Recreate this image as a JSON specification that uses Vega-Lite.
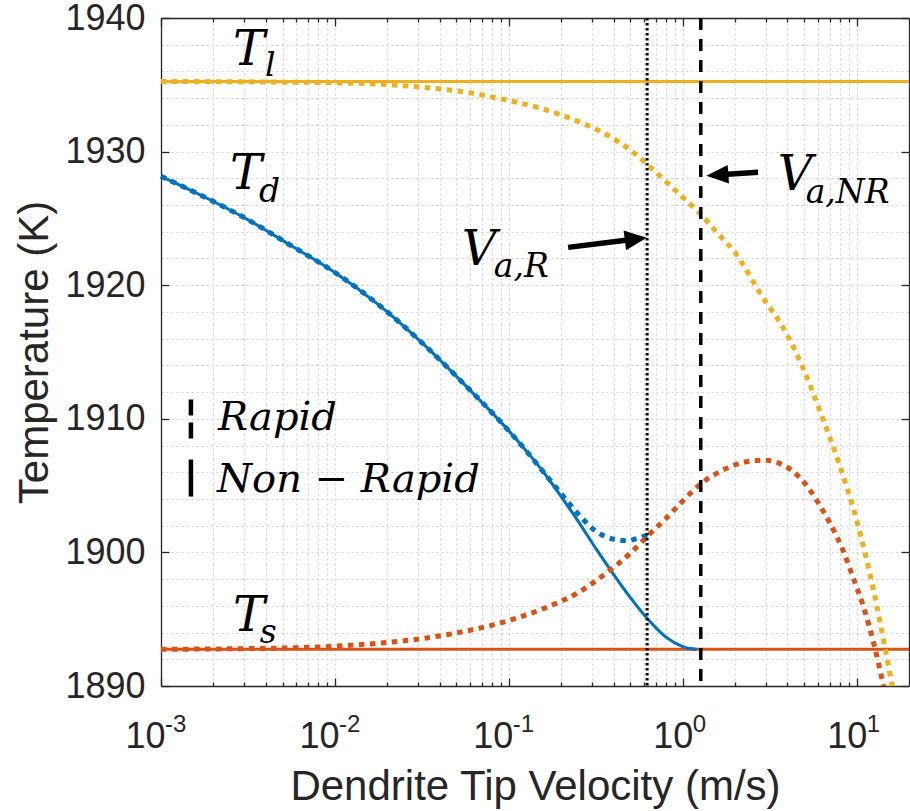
{
  "$schema": "https://vega.github.io/schema/vega-lite/v6.json",
  "width": 748,
  "height": 668,
  "autosize": {"type": "none"},
  "padding": {"left": 161, "top": 18, "right": 1, "bottom": 125},
  "background": "white",
  "config": {
    "view": {"stroke": null},
    "axis": {
      "domainColor": "#262626", "domainWidth": 1.3,
      "tickColor": "#262626", "tickWidth": 1.3,
      "labelColor": "#262626", "titleColor": "#262626",
      "labelFont": "Liberation Sans", "titleFont": "Liberation Sans",
      "titleFontWeight": "normal",
      "labelFlush": false, "labelBound": false, "labelOverlap": false,
      "gridColor": "#d2d2d2", "gridDash": [2, 3], "gridWidth": 1
    }
  },
  "datasets": {
    "solid": [
      {"s": "Tl", "v": 0.001, "T": 1935.25}, {"s": "Tl", "v": 20, "T": 1935.25},
      {"s": "Ts", "v": 0.001, "T": 1892.75}, {"s": "Ts", "v": 20, "T": 1892.75},
      {"s": "Td", "v": 0.001, "T": 1928.15},
      {"s": "Td", "v": 0.0017783, "T": 1926.6},
      {"s": "Td", "v": 0.0031623, "T": 1924.9},
      {"s": "Td", "v": 0.0056234, "T": 1922.95},
      {"s": "Td", "v": 0.01, "T": 1920.95},
      {"s": "Td", "v": 0.017783, "T": 1918.55},
      {"s": "Td", "v": 0.031623, "T": 1915.7},
      {"s": "Td", "v": 0.056234, "T": 1912.5},
      {"s": "Td", "v": 0.1, "T": 1909.1},
      {"s": "Td", "v": 0.12589, "T": 1907.6},
      {"s": "Td", "v": 0.15849, "T": 1906.0},
      {"s": "Td", "v": 0.19953, "T": 1904.2},
      {"s": "Td", "v": 0.25119, "T": 1902.3},
      {"s": "Td", "v": 0.31623, "T": 1900.3},
      {"s": "Td", "v": 0.39811, "T": 1898.4},
      {"s": "Td", "v": 0.50119, "T": 1896.6},
      {"s": "Td", "v": 0.63096, "T": 1895.0},
      {"s": "Td", "v": 0.79433, "T": 1893.7},
      {"s": "Td", "v": 1.0, "T": 1892.95},
      {"s": "Td", "v": 1.0965, "T": 1892.8},
      {"s": "Td", "v": 1.2023, "T": 1892.75}
    ],
    "rapid": [
      {"s": "Td", "v": 0.001, "T": 1928.15},
      {"s": "Td", "v": 0.0017783, "T": 1926.6},
      {"s": "Td", "v": 0.0031623, "T": 1924.9},
      {"s": "Td", "v": 0.0056234, "T": 1922.95},
      {"s": "Td", "v": 0.01, "T": 1920.95},
      {"s": "Td", "v": 0.017783, "T": 1918.55},
      {"s": "Td", "v": 0.031623, "T": 1915.7},
      {"s": "Td", "v": 0.056234, "T": 1912.5},
      {"s": "Td", "v": 0.1, "T": 1909.1},
      {"s": "Td", "v": 0.12589, "T": 1907.6},
      {"s": "Td", "v": 0.15849, "T": 1906.0},
      {"s": "Td", "v": 0.19953, "T": 1904.4},
      {"s": "Td", "v": 0.25119, "T": 1902.85},
      {"s": "Td", "v": 0.31623, "T": 1901.6},
      {"s": "Td", "v": 0.39811, "T": 1901.0},
      {"s": "Td", "v": 0.47863, "T": 1900.88},
      {"s": "Td", "v": 0.54954, "T": 1901.05},
      {"s": "Td", "v": 0.62373, "T": 1901.3},
      {"s": "Ts", "v": 0.001, "T": 1892.75},
      {"s": "Ts", "v": 0.0031623, "T": 1892.8},
      {"s": "Ts", "v": 0.01, "T": 1892.98},
      {"s": "Ts", "v": 0.017783, "T": 1893.2},
      {"s": "Ts", "v": 0.031623, "T": 1893.55},
      {"s": "Ts", "v": 0.056234, "T": 1894.1},
      {"s": "Ts", "v": 0.1, "T": 1894.9},
      {"s": "Ts", "v": 0.15849, "T": 1895.8},
      {"s": "Ts", "v": 0.25119, "T": 1897.0},
      {"s": "Ts", "v": 0.35481, "T": 1898.35},
      {"s": "Ts", "v": 0.50119, "T": 1899.95},
      {"s": "Ts", "v": 0.63096, "T": 1901.25},
      {"s": "Ts", "v": 0.79433, "T": 1902.5},
      {"s": "Ts", "v": 1.0, "T": 1903.85},
      {"s": "Ts", "v": 1.2589, "T": 1905.1},
      {"s": "Ts", "v": 1.5849, "T": 1905.95},
      {"s": "Ts", "v": 1.9953, "T": 1906.55},
      {"s": "Ts", "v": 2.5119, "T": 1906.85},
      {"s": "Ts", "v": 2.9512, "T": 1906.9},
      {"s": "Ts", "v": 3.5481, "T": 1906.7},
      {"s": "Ts", "v": 4.1687, "T": 1906.2},
      {"s": "Ts", "v": 5.0119, "T": 1905.2},
      {"s": "Ts", "v": 6.0256, "T": 1903.7},
      {"s": "Ts", "v": 7.0795, "T": 1902.1},
      {"s": "Ts", "v": 8.3176, "T": 1900.2},
      {"s": "Ts", "v": 9.5499, "T": 1898.1},
      {"s": "Ts", "v": 10.965, "T": 1895.9},
      {"s": "Ts", "v": 12.589, "T": 1893.1},
      {"s": "Ts", "v": 14.289, "T": 1890.0},
      {"s": "Tl", "v": 0.001, "T": 1935.25},
      {"s": "Tl", "v": 0.0031623, "T": 1935.22},
      {"s": "Tl", "v": 0.01, "T": 1935.15},
      {"s": "Tl", "v": 0.017783, "T": 1935.05},
      {"s": "Tl", "v": 0.031623, "T": 1934.82},
      {"s": "Tl", "v": 0.056234, "T": 1934.45},
      {"s": "Tl", "v": 0.1, "T": 1933.82},
      {"s": "Tl", "v": 0.15849, "T": 1933.18},
      {"s": "Tl", "v": 0.25119, "T": 1932.25},
      {"s": "Tl", "v": 0.35481, "T": 1931.35},
      {"s": "Tl", "v": 0.50119, "T": 1930.1},
      {"s": "Tl", "v": 0.63096, "T": 1929.0},
      {"s": "Tl", "v": 0.79433, "T": 1927.8},
      {"s": "Tl", "v": 1.0, "T": 1926.58},
      {"s": "Tl", "v": 1.2589, "T": 1925.35},
      {"s": "Tl", "v": 1.5849, "T": 1923.9},
      {"s": "Tl", "v": 1.9953, "T": 1922.45},
      {"s": "Tl", "v": 2.8184, "T": 1919.3},
      {"s": "Tl", "v": 3.9811, "T": 1916.3},
      {"s": "Tl", "v": 5.0119, "T": 1913.55},
      {"s": "Tl", "v": 6.3096, "T": 1910.2},
      {"s": "Tl", "v": 7.9433, "T": 1906.6},
      {"s": "Tl", "v": 10.0, "T": 1902.4},
      {"s": "Tl", "v": 12.589, "T": 1897.0},
      {"s": "Tl", "v": 14.791, "T": 1892.4},
      {"s": "Tl", "v": 16.032, "T": 1890.0}
    ],
    "mainLetters": [
      {"label": "T", "v": 0.002594, "T": 1936.5},
      {"label": "T", "v": 0.002496, "T": 1927.2},
      {"label": "T", "v": 0.002594, "T": 1894.15},
      {"label": "V", "v": 0.0537, "T": 1921.51},
      {"label": "V", "v": 3.516, "T": 1927.13}
    ],
    "subscripts": [
      {"label": "l", "v": 0.00396, "T": 1935.67},
      {"label": "d", "v": 0.00366, "T": 1926.23},
      {"label": "s", "v": 0.0037, "T": 1893.25},
      {"label": "a,R", "v": 0.08204, "T": 1920.61},
      {"label": "a,NR", "v": 5.093, "T": 1926.15}
    ],
    "legendText": [
      {"label": "Rapid", "v": 0.002128, "T": 1909.14},
      {"label": "Non − Rapid", "v": 0.002101, "T": 1904.49}
    ],
    "expNeg": [
      {"v": 0.001, "e": "-3"},
      {"v": 0.01, "e": "-2"},
      {"v": 0.1, "e": "-1"}
    ],
    "expPos": [
      {"v": 1, "e": "0"},
      {"v": 10, "e": "1"}
    ]
  },
  "layer": [
    {
      "data": {"name": "solid"},
      "mark": {"type": "line", "strokeWidth": 3, "interpolate": "monotone"},
      "encoding": {
        "x": {
          "field": "v", "type": "quantitative",
          "scale": {"type": "log", "domain": [0.001, 20], "nice": false},
          "axis": {
            "orient": "bottom",
            "values": [0.001,0.002,0.003,0.004,0.005,0.006,0.007,0.008,0.009,0.01,0.02,0.03,0.04,0.05,0.06,0.07,0.08,0.09,0.1,0.2,0.3,0.4,0.5,0.6,0.7,0.8,0.9,1,2,3,4,5,6,7,8,9,10],
            "grid": true,
            "tickSize": {"condition": {"test": "abs(log(datum.value)/LN10 - round(log(datum.value)/LN10)) < 1e-6", "value": -8}, "value": -4},
            "labelExpr": "abs(log(datum.value)/LN10 - round(log(datum.value)/LN10)) < 1e-6 ? '10' : ''",
            "labelFontSize": 36, "labelPadding": 41,
            "labelOffset": {"condition": {"test": "datum.value < 0.5", "value": -16}, "value": -10},
            "title": "Dendrite Tip Velocity (m/s)", "titleFontSize": 42,
            "titleY": 113, "titleBaseline": "alphabetic"
          }
        },
        "y": {
          "field": "T", "type": "quantitative",
          "scale": {"domain": [1890, 1940], "nice": false, "zero": false},
          "axis": {
            "orient": "left",
            "values": [1890,1892,1894,1896,1898,1900,1902,1904,1906,1908,1910,1912,1914,1916,1918,1920,1922,1924,1926,1928,1930,1932,1934,1936,1938,1940],
            "grid": true,
            "tickSize": {"condition": {"test": "datum.value % 10 == 0", "value": -8}, "value": 0},
            "labelExpr": "datum.value % 10 == 0 ? format(datum.value, 'd') : ''",
            "labelFontSize": 36, "labelPadding": 24,
            "title": "Temperature (K)", "titleFontSize": 42,
            "titleX": -114, "titleBaseline": "alphabetic"
          }
        },
        "color": {
          "field": "s", "type": "nominal",
          "scale": {"domain": ["Tl", "Td", "Ts"], "range": ["#EDB120", "#0072BD", "#D95319"]},
          "legend": null
        }
      }
    },
    {
      "data": {"name": "rapid"},
      "mark": {"type": "line", "strokeWidth": 5, "strokeDash": [5.5, 5.5], "interpolate": "monotone"},
      "encoding": {
        "x": {
          "field": "v", "type": "quantitative",
          "scale": {"type": "log", "domain": [0.001, 20], "nice": false},
          "axis": {
            "orient": "top",
            "values": [0.001,0.002,0.003,0.004,0.005,0.006,0.007,0.008,0.009,0.01,0.02,0.03,0.04,0.05,0.06,0.07,0.08,0.09,0.1,0.2,0.3,0.4,0.5,0.6,0.7,0.8,0.9,1,2,3,4,5,6,7,8,9,10],
            "grid": false, "labels": false, "title": null,
            "tickSize": {"condition": {"test": "abs(log(datum.value)/LN10 - round(log(datum.value)/LN10)) < 1e-6", "value": -8}, "value": -4}
          }
        },
        "y": {
          "field": "T", "type": "quantitative",
          "scale": {"domain": [1890, 1940], "nice": false, "zero": false},
          "axis": {
            "orient": "right",
            "values": [1890, 1900, 1910, 1920, 1930, 1940],
            "grid": false, "labels": false, "title": null, "tickSize": -8
          }
        },
        "color": {
          "field": "s", "type": "nominal",
          "scale": {"domain": ["Tl", "Td", "Ts"], "range": ["#EDB120", "#0072BD", "#D95319"]},
          "legend": null
        }
      }
    },
    {
      "data": {"values": [{"v": 0.624}]},
      "mark": {"type": "rule", "color": "black", "strokeWidth": 3, "strokeDash": [2.5, 2.5]},
      "encoding": {
        "x": {"field": "v", "type": "quantitative", "axis": null}
      }
    },
    {
      "data": {"values": [{"v": 1.27}]},
      "mark": {"type": "rule", "color": "black", "strokeWidth": 3.5, "strokeDash": [12, 9]},
      "encoding": {
        "x": {"field": "v", "type": "quantitative", "axis": null}
      }
    },
    {
      "data": {"values": [{"v": 0.001486, "T1": 1911.45, "T2": 1908.45}]},
      "mark": {"type": "rule", "color": "black", "strokeWidth": 4.5, "strokeDash": [16, 7]},
      "encoding": {
        "x": {"field": "v", "type": "quantitative", "axis": null},
        "y": {"field": "T1", "type": "quantitative", "axis": null},
        "y2": {"field": "T2"}
      }
    },
    {
      "data": {"values": [{"v": 0.001486, "T1": 1906.95, "T2": 1904.18}]},
      "mark": {"type": "rule", "color": "black", "strokeWidth": 4.5},
      "encoding": {
        "x": {"field": "v", "type": "quantitative", "axis": null},
        "y": {"field": "T1", "type": "quantitative", "axis": null},
        "y2": {"field": "T2"}
      }
    },
    {
      "data": {"values": [
        {"v1": 0.2193, "T1": 1922.83, "v2": 0.483, "T2": 1923.38},
        {"v1": 2.709, "T1": 1928.46, "v2": 1.632, "T2": 1928.27}
      ]},
      "mark": {"type": "rule", "color": "black", "strokeWidth": 5.5},
      "encoding": {
        "x": {"field": "v1", "type": "quantitative", "axis": null},
        "y": {"field": "T1", "type": "quantitative", "axis": null},
        "x2": {"field": "v2"},
        "y2": {"field": "T2"}
      }
    },
    {
      "data": {"values": [{"v": 0.537, "T": 1923.46}]},
      "mark": {"type": "point", "shape": "M-1,-0.9L1,0L-1,0.9Z", "size": 484, "angle": -7, "filled": true, "color": "black", "opacity": 1},
      "encoding": {
        "x": {"field": "v", "type": "quantitative", "axis": null},
        "y": {"field": "T", "type": "quantitative", "axis": null}
      }
    },
    {
      "data": {"values": [{"v": 1.582, "T": 1928.25}]},
      "mark": {"type": "point", "shape": "M-1,-0.85L1,0L-1,0.85Z", "size": 484, "angle": 176, "filled": true, "color": "black", "opacity": 1},
      "encoding": {
        "x": {"field": "v", "type": "quantitative", "axis": null},
        "y": {"field": "T", "type": "quantitative", "axis": null}
      }
    },
    {
      "data": {"name": "mainLetters"},
      "mark": {"type": "text", "font": "DejaVu Serif", "fontStyle": "italic", "fontSize": 48, "align": "left", "baseline": "alphabetic", "color": "black"},
      "encoding": {
        "x": {"field": "v", "type": "quantitative", "axis": null},
        "y": {"field": "T", "type": "quantitative", "axis": null},
        "text": {"field": "label"}
      }
    },
    {
      "data": {"name": "subscripts"},
      "mark": {"type": "text", "font": "DejaVu Serif", "fontStyle": "italic", "fontSize": 33, "align": "left", "baseline": "alphabetic", "color": "black"},
      "encoding": {
        "x": {"field": "v", "type": "quantitative", "axis": null},
        "y": {"field": "T", "type": "quantitative", "axis": null},
        "text": {"field": "label"}
      }
    },
    {
      "data": {"name": "legendText"},
      "mark": {"type": "text", "font": "DejaVu Serif", "fontStyle": "italic", "fontSize": 40, "align": "left", "baseline": "alphabetic", "color": "black"},
      "encoding": {
        "x": {"field": "v", "type": "quantitative", "axis": null},
        "y": {"field": "T", "type": "quantitative", "axis": null},
        "text": {"field": "label"}
      }
    },
    {
      "data": {"name": "expNeg"},
      "mark": {"type": "text", "font": "Liberation Sans", "fontSize": 24, "align": "left", "baseline": "alphabetic", "dx": 4, "dy": 46, "color": "#262626"},
      "encoding": {
        "x": {"field": "v", "type": "quantitative", "axis": null},
        "y": {"datum": 1890, "type": "quantitative", "axis": null},
        "text": {"field": "e"}
      }
    },
    {
      "data": {"name": "expPos"},
      "mark": {"type": "text", "font": "Liberation Sans", "fontSize": 24, "align": "left", "baseline": "alphabetic", "dx": 10, "dy": 46, "color": "#262626"},
      "encoding": {
        "x": {"field": "v", "type": "quantitative", "axis": null},
        "y": {"datum": 1890, "type": "quantitative", "axis": null},
        "text": {"field": "e"}
      }
    }
  ],
  "resolve": {"axis": {"x": "independent", "y": "independent"}}
}
